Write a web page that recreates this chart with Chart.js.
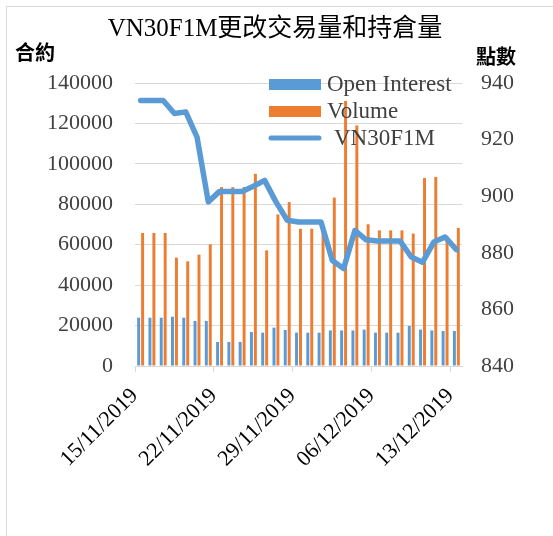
<!DOCTYPE html>
<html>
<head>
<meta charset="utf-8">
<script src="https://cdn.jsdelivr.net/npm/chart.js@4.4.1/dist/chart.umd.min.js"></script>
<style>
  html, body { margin: 0; padding: 0; background: #fff; }
  #wrap { position: relative; width: 553px; height: 536px; }
</style>
</head>
<body>
<div id="wrap"><canvas id="chart"></canvas></div>
<script>
const categories = [
  '15/11/2019', '16/11/2019', '17/11/2019', '18/11/2019', '19/11/2019', '20/11/2019', '21/11/2019',
  '22/11/2019', '23/11/2019', '24/11/2019', '25/11/2019', '26/11/2019', '27/11/2019', '28/11/2019',
  '29/11/2019', '30/11/2019', '01/12/2019', '02/12/2019', '03/12/2019', '04/12/2019', '05/12/2019',
  '06/12/2019', '07/12/2019', '08/12/2019', '09/12/2019', '10/12/2019', '11/12/2019', '12/12/2019',
  '13/12/2019'
];
const openInterest = [23900, 23900, 23900, 24400, 23900, 22300, 22300, 11900, 11900, 11900, 16800, 16500, 19000, 17800,
  16500, 16500, 16500, 17600, 17600, 17600, 18000, 16500, 16500, 16500, 19800, 18000, 17600, 17300, 17300];
const volume = [65800, 65800, 65800, 53600, 51800, 55100, 60200, 88500, 88500, 88500, 95100, 57200, 75000, 81100,
  67900, 67900, 67900, 83300, 131100, 119000, 70100, 67100, 67100, 67100, 65500, 93000, 93500, 64100, 68300];
const vn30f1m = [933.8, 933.8, 933.8, 929.2, 929.8, 920.9, 898.0, 901.7, 901.7, 901.7, 903.5, 905.6, 898.0, 891.5,
  890.9, 890.9, 890.9, 877.3, 874.4, 887.9, 884.6, 884.2, 884.2, 884.2, 878.5, 876.7, 883.8, 885.6, 881.1];
const leftTicks = [0, 140000, 20000];   // min, max, step
const rightTicks = [840, 940, 20];

const BLUE = '#5b9bd5';
const ORANGE = '#ed7d31';
const TEXT = '#404040';
const GRID = '#d9d9d9';
const SERIF = "'Liberation Serif', 'Noto Sans CJK TC', serif";

// title, axis captions, legend and frame drawn on the canvas
const decorations = {
  id: 'decorations',
  beforeDraw(chart) {
    const ctx = chart.ctx;
    ctx.save();
    ctx.strokeStyle = GRID;
    ctx.lineWidth = 1;
    ctx.strokeRect(6.5, 6.5, 700, 700);
    ctx.restore();
  },
  afterDraw(chart) {
    const ctx = chart.ctx;
    ctx.save();
    ctx.fillStyle = '#000';
    ctx.textBaseline = 'middle';
    ctx.textAlign = 'center';
    ctx.font = "25px " + SERIF;
    ctx.fillText('VN30F1M更改交易量和持倉量', 275, 29);

    ctx.textAlign = 'left';
    ctx.font = "bold 20px 'Noto Sans CJK TC', sans-serif";
    ctx.fillText('合約', 15, 52);
    ctx.fillText('點數', 476, 56);

    // legend
    ctx.fillStyle = BLUE;
    ctx.fillRect(269, 79, 52, 11);
    ctx.fillStyle = ORANGE;
    ctx.fillRect(269, 106, 52, 11);
    ctx.strokeStyle = BLUE;
    ctx.lineWidth = 5;
    ctx.lineCap = 'round';
    ctx.beginPath();
    ctx.moveTo(271, 138);
    ctx.lineTo(319, 138);
    ctx.stroke();

    ctx.fillStyle = TEXT;
    ctx.font = "23px " + SERIF;
    ctx.fillText('Open Interest', 327, 85);
    ctx.fillText('Volume', 327, 112);
    ctx.fillText('VN30F1M', 334, 139);
    ctx.restore();
  }
};

new Chart(document.getElementById('chart'), {
  type: 'bar',
  data: {
    labels: categories,
    datasets: [
      {
        type: 'line',
        label: 'VN30F1M',
        data: vn30f1m,
        yAxisID: 'y1',
        borderColor: BLUE,
        borderWidth: 5.5,
        borderCapStyle: 'round',
        borderJoinStyle: 'round',
        pointRadius: 0,
        tension: 0,
        order: 0
      },
      {
        label: 'Open Interest',
        data: openInterest,
        yAxisID: 'y',
        backgroundColor: BLUE,
        categoryPercentage: 0.7,
        barPercentage: 0.75,
        order: 1
      },
      {
        label: 'Volume',
        data: volume,
        yAxisID: 'y',
        backgroundColor: ORANGE,
        categoryPercentage: 0.7,
        barPercentage: 0.75,
        order: 1
      }
    ]
  },
  options: {
    responsive: true,
    maintainAspectRatio: false,
    animation: false,
    layout: { padding: { top: 83, left: 0, right: 0, bottom: 0 } },
    plugins: {
      legend: { display: false },
      tooltip: { enabled: false }
    },
    scales: {
      x: {
        offset: true,
        grid: {
          offset: true,
          drawOnChartArea: false,
          tickLength: 6,
          color: (c) => (c.index % 7 === 0 ? GRID : 'rgba(0,0,0,0)')
        },
        border: { display: true, color: GRID },
        ticks: {
          autoSkip: false,
          minRotation: 45,
          maxRotation: 45,
          padding: 11,
          labelOffset: -6,
          color: '#000',
          font: { family: SERIF, size: 22 },
          callback: (v, i) => (i % 7 === 0 ? categories[i] : '')
        },
        afterFit: (s) => { s.height = 170; }
      },
      y: {
        position: 'left',
        min: leftTicks[0],
        max: leftTicks[1],
        ticks: {
          stepSize: leftTicks[2],
          padding: 22,
          color: TEXT,
          font: { family: SERIF, size: 22 },
          callback: (v) => String(v)
        },
        grid: { color: GRID, drawTicks: false },
        border: { display: false },
        afterFit: (s) => { s.width = 135; }
      },
      y1: {
        position: 'right',
        min: rightTicks[0],
        max: rightTicks[1],
        ticks: {
          stepSize: rightTicks[2],
          padding: 19,
          color: TEXT,
          font: { family: SERIF, size: 22 },
          callback: (v) => String(v)
        },
        grid: { display: false, drawTicks: false },
        border: { display: false },
        afterFit: (s) => { s.width = 91; }
      }
    }
  },
  plugins: [decorations]
});
</script>
</body>
</html>
